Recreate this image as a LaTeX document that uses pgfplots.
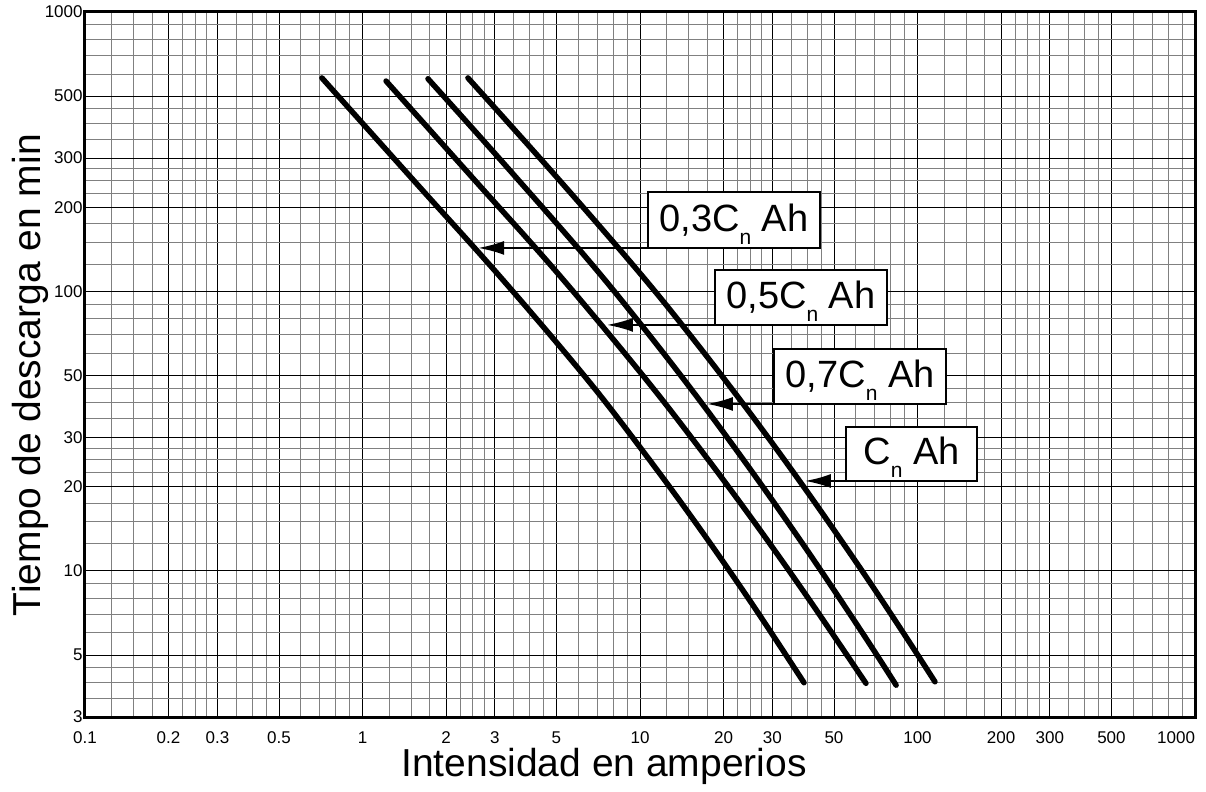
\documentclass[border=0pt]{standalone}
\usepackage{pgfplots}
\pgfplotsset{compat=1.18}
\usepackage{fontspec}
\setmainfont{Liberation Sans}
\usetikzlibrary{arrows.meta}

\newcommand{\Cn}{C\raisebox{-6.5pt}{\fontsize{10.5}{12}\selectfont n}}
% #1 x-left #2 y-bottom #3 x-right #4 y-top #5 arrow tip x #6 box centre x #7 text
\newcommand{\lab}[7]{%
  \draw[line width=1pt,-{Latex[length=13pt,width=7pt]}] (axis cs:#1,#2) -- (axis cs:#5,#2);
  \filldraw[fill=white,draw=black,line width=1.25pt] (axis cs:#1,#2) rectangle (axis cs:#3,#4);
  \node[anchor=base,inner sep=0pt,yshift=8pt,font=\fontsize{19}{22}\selectfont] at (axis cs:#6,#2) {#7};
}
\pgfplotsset{mycurve/.style={black,line width=2.75pt,line cap=round,line join=round,smooth,tension=0.6,mark=none}}

\begin{document}
\begin{tikzpicture}
\begin{axis}[
  scale only axis,
  width=555pt, height=352.5pt,
  xmode=log, ymode=log,
  xmin=0.1, xmax=1000, ymin=3, ymax=1000,
  xtick={0.1,0.2,0.3,0.5,1,2,3,5,10,20,30,50,100,200,300,500,1000},
  xticklabels={0.1,0.2,0.3,0.5,1,2,3,5,10,20,30,50,100,200,300,500,\llap{1000}},
  ytick={3,5,10,20,30,50,100,200,300,500,1000},
  yticklabels={3,5,10,20,30,50,100,200,300,500,1000},
  minor xtick={0.125,0.15,0.175,0.225,0.25,0.275,0.35,0.4,0.45,0.6,0.7,0.8,0.9,
    1.25,1.5,1.75,2.25,2.5,2.75,3.5,4,4.5,6,7,8,9,
    12.5,15,17.5,22.5,25,27.5,35,40,45,60,70,80,90,
    125,150,175,225,250,275,350,400,450,600,700,800,900},
  minor ytick={3.5,4,4.5,6,7,8,9,
    12.5,15,17.5,22.5,25,27.5,35,40,45,60,70,80,90,
    125,150,175,225,250,275,350,400,450,600,700,800,900},
  grid=both,
  major grid style={black,line width=0.45pt},
  minor grid style={black!50,line width=0.45pt},
  major tick length=0pt, minor tick length=0pt,
  axis line style={line width=1.5pt},
  tick label style={font=\fontsize{8.5}{10}\selectfont},
  yticklabel style={inner sep=1pt},
  xticklabel style={inner sep=1pt,yshift=-6pt},
  xlabel={Intensidad en amperios},
  ylabel={Tiempo de descarga en min},
  xlabel style={font=\fontsize{19.5}{23}\selectfont,at={(axis description cs:0.4676,-0.0705)},anchor=center},
  ylabel style={font=\fontsize{19.5}{23}\selectfont,at={(axis description cs:-0.0495,0.485)},anchor=center},
]
\coordinate (sw) at (rel axis cs:0,0);
\coordinate (ne) at (rel axis cs:1,1);
% 0,3 Cn
\addplot[mycurve] coordinates {(0.714,580.8) (1.585,239.9) (3.162,111.7) (6.31,49.8) (10,27.7) (15.85,14.89) (25.12,7.72) (39.0,3.98)};
% 0,5 Cn
\addplot[mycurve] coordinates {(1.216,566.2) (2.512,252.9) (5.012,117.2) (10,51.5) (15.85,28.7) (25.12,15.52) (39.81,8.15) (65.2,3.96)};
% 0,7 Cn
\addplot[mycurve] coordinates {(1.722,576.8) (3.162,293.8) (6.31,134.3) (10,76.9) (15.85,42.66) (25.12,22.91) (39.81,11.94) (63.1,6.03) (83.75,3.90)};
% Cn
\addplot[mycurve] coordinates {(2.399,580.8) (5.012,256.4) (10,116.1) (15.85,65.97) (25.12,36.31) (39.81,19.36) (63.1,10.01) (89.1,5.98) (115.6,4.01)};

\lab{10.69}{143.1}{44.5}{227}{2.61}{21.8}{0,3\Cn{} Ah}
\lab{18.64}{75.9}{77.6}{119.4}{7.60}{38.0}{0,5\Cn{} Ah}
\lab{30.4}{39.57}{126.7}{62.3}{17.43}{62.1}{0,7\Cn{} Ah}
\lab{55.3}{20.98}{163.8}{32.7}{39.3}{95.2}{\Cn{} Ah}
\end{axis}
\pgfresetboundingbox
\path[use as bounding box] ([shift={(-42.5pt,-37pt)}]sw) rectangle ([shift={(5.5pt,6pt)}]ne);
\end{tikzpicture}
\end{document}
